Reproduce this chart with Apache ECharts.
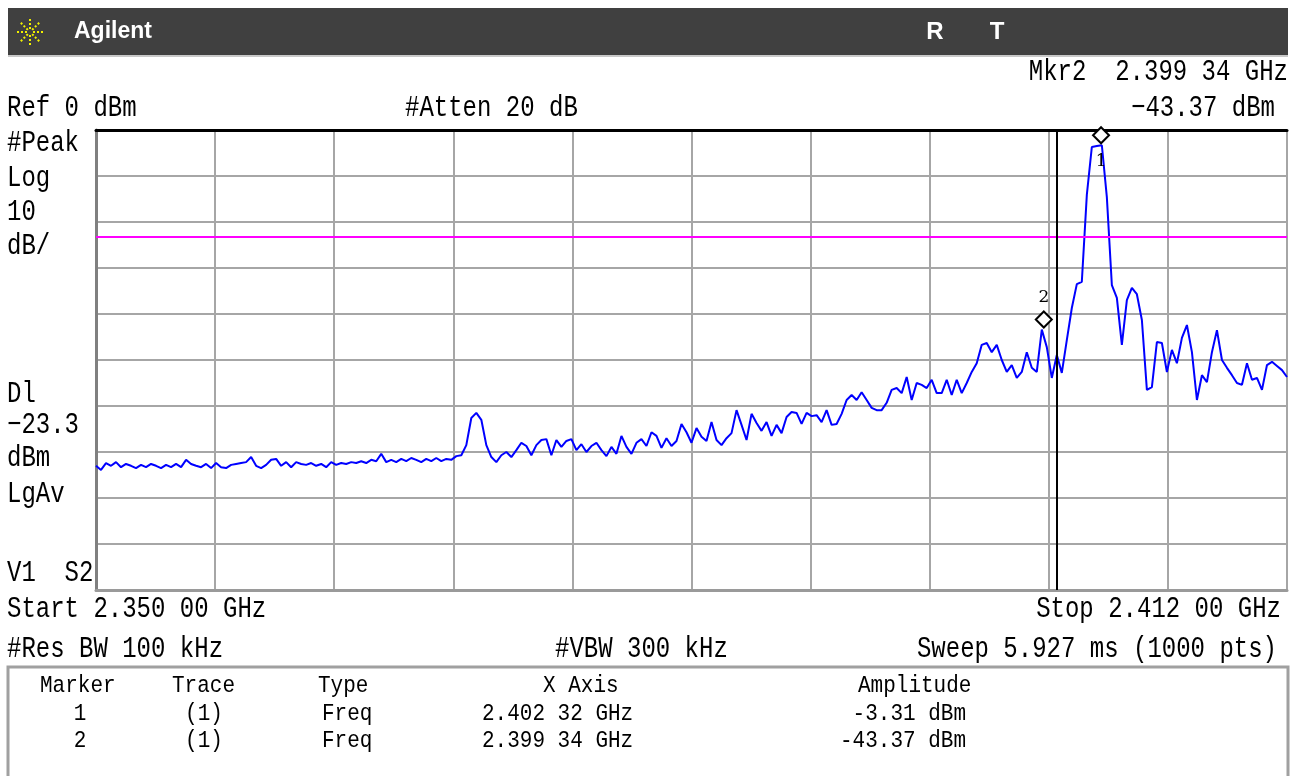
<!DOCTYPE html>
<html>
<head>
<meta charset="utf-8">
<title>Agilent spectrum</title>
<script src="https://cdn.jsdelivr.net/npm/echarts/dist/echarts.min.js"></script>
<style>
  html, body { margin: 0; padding: 0; background: #fff; }
  #container { width: 1294px; height: 776px; }
</style>
</head>
<body>
<div id="container"></div>
<script>
// sweep settings (GHz / dBm)
const startGHz = 2.350;
const stopGHz = 2.412;
const refDbm = 0;
const bottomDbm = -100;
const displayLineDbm = -23.3;

// trace, evenly spaced from start to stop
const traceDbm = [
  -73.0,-73.9,-72.4,-73.0,-72.2,-73.3,-72.6,-73.0,-73.5,-72.8,
  -73.3,-72.6,-73.0,-73.5,-72.8,-73.3,-72.6,-73.3,-71.7,-72.6,
  -73.0,-73.3,-72.6,-73.5,-72.4,-73.3,-73.5,-72.8,-72.6,-72.4,
  -72.2,-71.1,-73.0,-73.5,-72.8,-71.7,-71.5,-73.0,-72.2,-73.3,
  -72.2,-72.6,-72.8,-72.4,-73.0,-72.6,-73.3,-72.2,-72.8,-72.4,
  -72.6,-72.2,-72.4,-72.0,-72.4,-71.7,-72.0,-70.4,-72.2,-71.7,
  -72.2,-71.5,-72.0,-71.3,-71.7,-72.2,-71.5,-72.0,-71.3,-72.0,
  -71.5,-71.7,-70.9,-70.7,-68.5,-62.6,-61.5,-63.0,-68.5,-71.1,
  -72.2,-70.7,-70.0,-71.1,-69.6,-68.0,-68.7,-70.7,-68.5,-67.4,
  -67.2,-70.7,-67.4,-68.9,-67.6,-67.2,-69.6,-68.3,-70.0,-68.7,
  -68.0,-69.6,-70.9,-68.9,-70.4,-66.5,-68.9,-70.4,-68.0,-67.2,
  -68.7,-65.7,-66.5,-69.1,-67.0,-68.7,-67.6,-63.9,-65.7,-68.0,
  -64.8,-66.7,-67.6,-63.5,-67.4,-68.5,-67.0,-65.9,-60.9,-64.1,
  -67.4,-61.7,-63.7,-65.4,-63.5,-66.5,-64.1,-65.9,-62.4,-61.3,
  -61.5,-63.9,-61.5,-62.2,-62.0,-63.5,-60.9,-64.1,-63.9,-61.7,
  -58.7,-57.6,-58.7,-57.0,-58.7,-60.4,-60.9,-60.9,-59.3,-56.5,
  -56.1,-57.2,-53.7,-58.7,-55.0,-55.4,-56.1,-54.3,-57.2,-57.2,
  -54.3,-57.6,-54.3,-57.2,-55.0,-52.6,-50.7,-46.7,-46.3,-48.3,
  -46.7,-50.0,-52.6,-51.1,-53.9,-52.6,-48.3,-51.7,-52.6,-43.4,
  -47.2,-53.9,-48.9,-52.8,-45.7,-38.7,-33.5,-33.0,-14.1,-3.7,
  -3.5,-3.31,-14.6,-33.7,-36.5,-46.7,-37.0,-34.3,-35.7,-41.3,
  -56.5,-55.9,-46.1,-46.3,-52.6,-47.8,-50.7,-45.2,-42.4,-48.3,
  -58.7,-53.3,-54.8,-48.3,-43.5,-50.0,-51.7,-53.3,-55.0,-55.4,
  -50.7,-54.3,-53.9,-56.5,-51.1,-50.4,-51.3,-52.2,-53.7
];

// markers
const markerIds = ['1', '2'];
const markerFreqGHz = [2.40232, 2.39934];
const markerDbm = [-3.31, -43.37];

// the two black vertical lines near 2.400 GHz
const freqLinesGHz = [2.39987, 2.40008];

const fmtGHz = function (f) {
    const s = f.toFixed(5);
    return s.slice(0, 5) + ' ' + s.slice(5) + ' GHz';
};

const step = (stopGHz - startGHz) / (traceDbm.length - 1);
const traceData = traceDbm.map(function (v, i) { return [startGHz + i * step, v]; });

const MONO = '"Liberation Mono", "DejaVu Sans Mono", monospace';
const txt = function (str, x, y, align, size, sy) {
    return {
        type: 'text', x: x, y: y, scaleY: sy || 1.25, z: 10,
        style: {
            text: str, fill: '#000', textAlign: align || 'left', textVerticalAlign: 'middle',
            font: (size || 24) + 'px ' + MONO
        }
    };
};

// starburst logo
const logo = [];
for (let k = 0; k < 8; k++) {
    const a = k * Math.PI / 4;
    logo.push({
        type: 'line', z: 10,
        shape: { x1: 30 + 3 * Math.cos(a), y1: 32 + 3 * Math.sin(a), x2: 30 + 13 * Math.cos(a), y2: 32 + 13 * Math.sin(a) },
        style: { stroke: '#f0f000', lineWidth: 2, lineDash: [2, 2] }
    });
}

const mk2 = markerIds.length - 1;
const graphics = [
    { type: 'rect', shape: { x: 8, y: 8, width: 1280, height: 47 }, style: { fill: '#404040' } },
    { type: 'line', shape: { x1: 8, y1: 56, x2: 1288, y2: 56 }, style: { stroke: '#c8c8c8', lineWidth: 2 } },
    { type: 'text', x: 74, y: 32, z: 10, style: { text: 'Agilent', fill: '#fff', textVerticalAlign: 'middle', font: 'bold 23px "Liberation Sans", Arial, sans-serif' } },
    { type: 'text', x: 935, y: 32, z: 10, style: { text: 'R', fill: '#fff', textAlign: 'center', textVerticalAlign: 'middle', font: 'bold 24px "Liberation Sans", Arial, sans-serif' } },
    { type: 'text', x: 997, y: 32, z: 10, style: { text: 'T', fill: '#fff', textAlign: 'center', textVerticalAlign: 'middle', font: 'bold 24px "Liberation Sans", Arial, sans-serif' } },

    txt('Mkr' + markerIds[mk2] + '  ' + fmtGHz(markerFreqGHz[mk2]), 1288, 72, 'right'),
    txt('Ref ' + refDbm + ' dBm', 7, 108),
    txt('#Atten 20 dB', 405, 108),
    txt('\u2212' + Math.abs(markerDbm[mk2]).toFixed(2) + ' dBm', 1275, 108, 'right'),

    txt('#Peak', 7, 143),
    txt('Log', 7, 178),
    txt('10', 7, 212),
    txt('dB/', 7, 246),
    txt('Dl', 7, 394),
    txt('\u2212' + Math.abs(displayLineDbm).toFixed(1), 7, 425),
    txt('dBm', 7, 458),
    txt('LgAv', 7, 494),
    txt('V1  S2', 7, 573),

    txt('Start ' + fmtGHz(startGHz), 7, 609),
    txt('Stop ' + fmtGHz(stopGHz), 1281, 609, 'right'),
    txt('#Res BW 100 kHz', 7, 649),
    txt('#VBW 300 kHz', 555, 649),
    txt('Sweep 5.927 ms (1000 pts)', 1277, 649, 'right'),

    { type: 'rect', shape: { x: 8, y: 667, width: 1280, height: 120 }, style: { fill: 'none', stroke: '#a0a0a0', lineWidth: 3 } },
    txt('Marker', 40, 686, 'left', 21, 1.1),
    txt('Trace', 172, 686, 'left', 21, 1.1),
    txt('Type', 318, 686, 'left', 21, 1.1),
    txt('X Axis', 543, 686, 'left', 21, 1.1),
    txt('Amplitude', 858, 686, 'left', 21, 1.1)
].concat(logo);

markerIds.forEach(function (id, i) {
    const y = 714 + i * 27;
    graphics.push(txt(id, 80, y, 'center', 21, 1.1));
    graphics.push(txt('(1)', 204, y, 'center', 21, 1.1));
    graphics.push(txt('Freq', 322, y, 'left', 21, 1.1));
    graphics.push(txt(fmtGHz(markerFreqGHz[i]), 482, y, 'left', 21, 1.1));
    graphics.push(txt(markerDbm[i].toFixed(2) + ' dBm', 966, y, 'right', 21, 1.1));
});

// diamonds and their numbers
const markPts = [];
markerIds.forEach(function (id, i) {
    markPts.push({
        coord: [markerFreqGHz[i], markerDbm[i]],
        symbol: 'diamond', symbolSize: [16, 16], symbolOffset: [0, -10],
        itemStyle: { color: '#fff', borderColor: '#000', borderWidth: 2 },
        label: { show: false }
    });
    markPts.push({
        coord: [markerFreqGHz[i], markerDbm[i]],
        symbol: 'circle', symbolSize: 1,
        itemStyle: { color: 'rgba(0,0,0,0)' },
        label: {
            show: true, formatter: id, position: 'inside', offset: [0, i === 0 ? 16 : -32],
            color: '#000', fontSize: 17, fontFamily: '"DejaVu Serif", serif'
        }
    });
});

const chart = echarts.init(document.getElementById('container'), null, { renderer: 'canvas' });
const option = {
    backgroundColor: '#fff',
    animation: false,
    grid: { left: 96, right: 7, top: 130, bottom: 186 },
    xAxis: [
        { type: 'value', min: startGHz, max: stopGHz, show: false },
        {
            type: 'value', min: 0, max: 10, interval: 1, position: 'bottom',
            axisLine: { show: true, lineStyle: { color: '#9a9a9a', width: 3 } },
            axisTick: { show: false }, axisLabel: { show: false },
            splitLine: { show: true, lineStyle: { color: '#a6a6a6', width: 2 } }
        },
        {
            type: 'value', min: 0, max: 10, interval: 1, position: 'top',
            axisLine: { show: true, lineStyle: { color: '#000', width: 3 } },
            axisTick: { show: false }, axisLabel: { show: false }, splitLine: { show: false }
        }
    ],
    yAxis: {
        type: 'value', min: bottomDbm, max: refDbm, interval: 10,
        axisLine: { show: true, lineStyle: { color: '#808080', width: 3 } },
        axisTick: { show: false }, axisLabel: { show: false },
        splitLine: { show: true, lineStyle: { color: '#a6a6a6', width: 2 } }
    },
    series: [
        {
            type: 'line', xAxisIndex: 0, yAxisIndex: 0, silent: true,
            data: [],
            markLine: {
                silent: true, symbol: 'none', label: { show: false },
                data: [{ yAxis: displayLineDbm, lineStyle: { color: '#ff00ff', width: 2, type: 'solid' } }]
                    .concat(freqLinesGHz.map(function (f) {
                        return { xAxis: f, lineStyle: { color: '#000', width: 2, type: 'solid' } };
                    }))
            }
        },
        {
            name: 'Trace 1', type: 'line', xAxisIndex: 0, yAxisIndex: 0,
            data: traceData, showSymbol: false, silent: true,
            lineStyle: { color: '#0000ff', width: 2 },
            markPoint: { silent: true, data: markPts }
        }
    ],
    graphic: graphics
};
chart.setOption(option);
</script>
</body>
</html>
